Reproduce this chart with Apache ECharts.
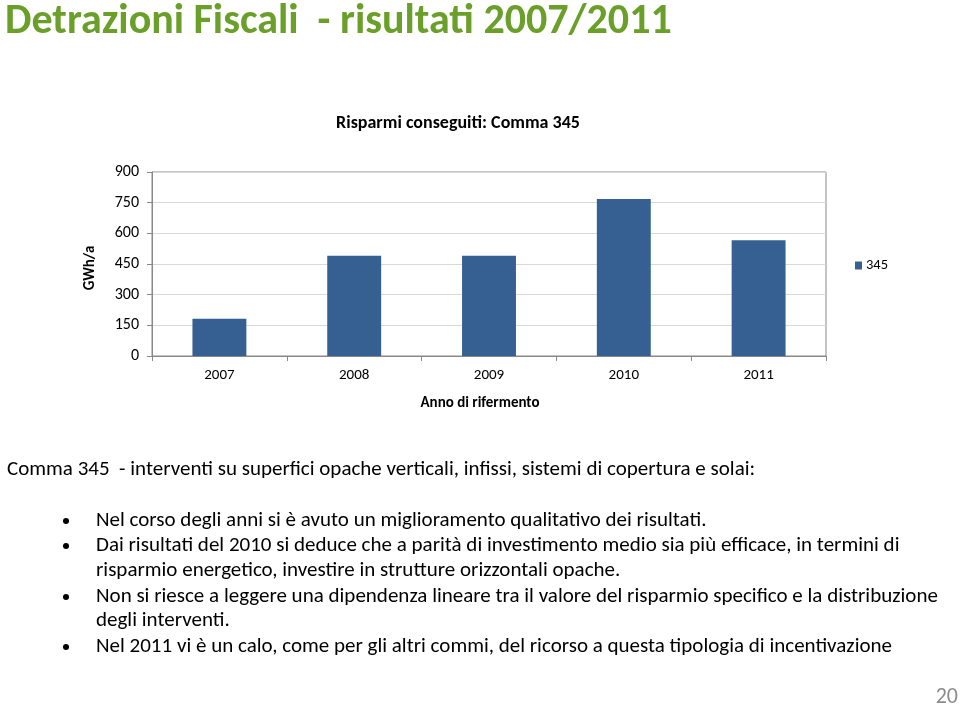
<!DOCTYPE html>
<html><head><meta charset="utf-8">
<script src="https://cdn.jsdelivr.net/npm/echarts@6/dist/echarts.min.js"></script>
<style>html,body{margin:0;padding:0;background:#fff}#c{width:960px;height:705px}</style>
</head><body><div id="c"></div>
<script>
var categories = ['2007','2008','2009','2010','2011'];
var values345 = [182, 490, 490, 768, 566];
var yTicks = [0,150,300,450,600,750,900];
var seriesName = '345';
var pageTitle = 'Detrazioni Fiscali  - risultati 2007/2011';
var chartTitle = 'Risparmi conseguiti: Comma 345';
var yName = 'GWh/a';
var xName = 'Anno di rifermento';
var introLine = 'Comma 345  - interventi su superfici opache verticali, infissi, sistemi di copertura e solai:';
var bulletLines = [
  {b:true, t:'Nel corso degli anni si è avuto un miglioramento qualitativo dei risultati.'},
  {b:true, t:'Dai risultati del 2010 si deduce che a parità di investimento medio sia più efficace, in termini di'},
  {b:false, t:'risparmio energetico, investire in strutture orizzontali opache.'},
  {b:true, t:'Non si riesce a leggere una dipendenza lineare tra il valore del risparmio specifico e la distribuzione'},
  {b:false, t:'degli interventi.'},
  {b:true, t:'Nel 2011 vi è un calo, come per gli altri commi, del ricorso a questa tipologia di incentivazione'}
];
var pageNumber = '20';

var F = "Carlito, 'Liberation Sans Narrow', 'Open Sans', sans-serif";
var chart = echarts.init(document.getElementById('c'));
var graphics = [
  {type:'text', x:5, y:22, style:{text:pageTitle, font:"bold 42px "+F, fill:'#6a9f2a', verticalAlign:'middle'}},
  {type:'text', x:458, y:123, style:{text:chartTitle, font:"bold 18px "+F, fill:'#000', align:'center', verticalAlign:'middle'}},
  {type:'text', x:90, y:268, rotation:Math.PI/2, style:{text:yName, font:"bold 15px "+F, fill:'#000', align:'center', verticalAlign:'middle'}},
  {type:'text', x:480, y:403, style:{text:xName, font:"bold 15px "+F, fill:'#000', align:'center', verticalAlign:'middle'}},
  {type:'text', x:7, y:470, style:{text:introLine, font:"21px "+F, fill:'#000', verticalAlign:'middle'}},
  {type:'text', x:958, y:697, style:{text:pageNumber, font:"22px "+F, fill:'#8c8c8c', align:'right', verticalAlign:'middle'}}
];
var ys = [521,546,571,597,621,647];
bulletLines.forEach(function(l,i){
  if(l.b) graphics.push({type:'circle', shape:{cx:66, cy:ys[i], r:3}, style:{fill:'#000'}});
  graphics.push({type:'text', x:96, y:ys[i], style:{text:l.t, font:"21px "+F, fill:'#000', verticalAlign:'middle'}});
});

chart.setOption({
  animation:false,
  graphic: graphics,
  legend:{show:true, left:850, top:253, itemWidth:7, itemHeight:8, itemGap:4, icon:'rect',
    textStyle:{fontFamily:F, fontSize:14.5, color:'#000', padding:[0,0,0,-1]}, data:[seriesName]},
  grid:{left:152, right:134, top:172, bottom:349, show:true, borderColor:'#888', borderWidth:1},
  xAxis:{type:'category', data:categories,
    axisLine:{lineStyle:{color:'#888'}},
    axisTick:{show:true, inside:false, length:5, lineStyle:{color:'#888'}},
    axisLabel:{fontFamily:F, fontSize:15, color:'#000', margin:12}},
  yAxis:{type:'value', min:0, max:900, interval:150,
    axisLine:{show:true, lineStyle:{color:'#888'}},
    axisTick:{show:true, length:5, lineStyle:{color:'#888'}},
    splitLine:{lineStyle:{color:'#d9d9d9'}},
    axisLabel:{fontFamily:F, fontSize:16, color:'#000', margin:13}},
  series:[{name:seriesName, type:'bar', data:values345, barWidth:'40%', itemStyle:{color:'#376092'}}]
});
</script></body></html>
